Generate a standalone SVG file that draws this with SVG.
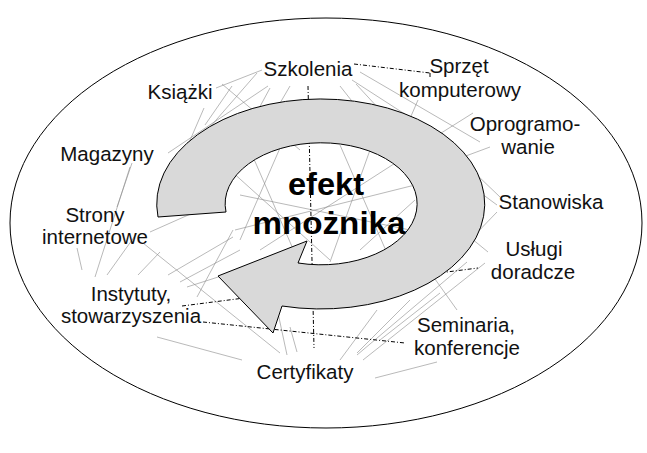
<svg xmlns="http://www.w3.org/2000/svg" width="647" height="453" viewBox="0 0 647 453">
<style>
.lbl{font-family:"Liberation Sans",Arial,sans-serif;font-size:20.5px;fill:#111;text-anchor:middle}
.big{font-family:"Liberation Sans",Arial,sans-serif;font-size:32px;font-weight:bold;fill:#000;text-anchor:middle}
.g{stroke:#8a8a8a;stroke-width:0.6;fill:none}
.d{stroke:#000;stroke-width:1;fill:none;stroke-dasharray:4 2 1 2}
</style>
<rect width="647" height="453" fill="#fff"/>
<g id="frame"><ellipse cx="326" cy="223" rx="316" ry="205" fill="none" stroke="#000" stroke-width="1"/></g>
<g id="connectors">
<g class="g">
<line x1="216" y1="88" x2="262" y2="70"/>
<line x1="168" y1="153" x2="268" y2="86"/>
<line x1="257" y1="73" x2="190" y2="150"/>
<line x1="222" y1="84" x2="300" y2="150"/>
<line x1="232" y1="86" x2="205" y2="125"/>
<line x1="204" y1="108" x2="188" y2="145"/>
<line x1="270" y1="88" x2="250" y2="125"/>
<line x1="290" y1="86" x2="276" y2="110"/>
<line x1="340" y1="86" x2="355" y2="105"/>
<line x1="356" y1="84" x2="380" y2="110"/>
<line x1="360" y1="72" x2="480" y2="142"/>
<line x1="352" y1="80" x2="445" y2="140"/>
<line x1="418" y1="100" x2="405" y2="130"/>
<line x1="473" y1="113" x2="430" y2="140"/>
<line x1="490" y1="147" x2="455" y2="160"/>
<line x1="500" y1="197" x2="430" y2="130"/>
<line x1="497" y1="205" x2="470" y2="185"/>
<line x1="497" y1="212" x2="470" y2="240"/>
<line x1="488" y1="252" x2="455" y2="225"/>
<line x1="485" y1="263" x2="363" y2="360"/>
<line x1="467" y1="262" x2="357" y2="355"/>
<line x1="457" y1="310" x2="425" y2="265"/>
<line x1="437" y1="362" x2="375" y2="378"/>
<line x1="440" y1="293" x2="380" y2="340"/>
<line x1="143" y1="243" x2="280" y2="353"/>
<line x1="157" y1="337" x2="242" y2="360"/>
<line x1="278" y1="313" x2="287" y2="355"/>
<line x1="290" y1="327" x2="297" y2="352"/>
<line x1="377" y1="310" x2="340" y2="360"/>
<line x1="410" y1="300" x2="357" y2="353"/>
<line x1="130" y1="167" x2="95" y2="277"/>
<line x1="77" y1="248" x2="82" y2="270"/>
<line x1="107" y1="275" x2="137" y2="233"/>
<line x1="138" y1="275" x2="160" y2="252"/>
<line x1="168" y1="275" x2="233" y2="237"/>
<line x1="180" y1="282" x2="240" y2="250"/>
<line x1="187" y1="287" x2="240" y2="270"/>
<line x1="197" y1="297" x2="233" y2="230"/>
<line x1="132" y1="163" x2="117" y2="207"/>
<line x1="150" y1="232" x2="195" y2="212"/>
<line x1="230" y1="170" x2="330" y2="260"/>
<line x1="250" y1="150" x2="300" y2="265"/>
<line x1="260" y1="250" x2="400" y2="160"/>
<line x1="235" y1="230" x2="415" y2="185"/>
<line x1="340" y1="145" x2="390" y2="260"/>
<line x1="370" y1="150" x2="330" y2="262"/>
<line x1="240" y1="195" x2="410" y2="230"/>
<line x1="280" y1="148" x2="240" y2="240"/>
<line x1="360" y1="250" x2="415" y2="200"/>
</g>
<g class="d">
<line x1="308" y1="86" x2="314" y2="348"/>
<line x1="354" y1="64" x2="430" y2="73"/>
<line x1="430" y1="73" x2="430" y2="79"/>
<line x1="203" y1="322" x2="405" y2="343"/>
<line x1="182" y1="306" x2="478" y2="268"/>
</g>
</g>
<g id="cycle-arrow">
<path d="M158,217 A164,105 0 1 1 282,306 L273,333 L218,276 L307,241 L298,263 A96,61 0 1 0 226,212 Z" fill="#d9d9d9" stroke="#000" stroke-width="1"/>
</g>
<g id="center"><text class="big" x="326" y="195" textLength="76" lengthAdjust="spacingAndGlyphs">efekt</text><text class="big" x="329" y="234" textLength="153" lengthAdjust="spacingAndGlyphs">mnożnika</text></g>
<g id="szkolenia"><text class="lbl" x="308" y="76">Szkolenia</text></g>
<g id="ksiazki"><text class="lbl" x="180" y="99">Książki</text></g>
<g id="sprzet"><text class="lbl" x="459" y="73">Sprzęt</text><text class="lbl" x="460" y="97">komputerowy</text></g>
<g id="oprogramowanie"><text class="lbl" x="525" y="131">Oprogramo-</text><text class="lbl" x="528" y="154">wanie</text></g>
<g id="stanowiska"><text class="lbl" x="551" y="209">Stanowiska</text></g>
<g id="uslugi"><text class="lbl" x="534" y="256">Usługi</text><text class="lbl" x="533" y="279">doradcze</text></g>
<g id="seminaria"><text class="lbl" x="466" y="332">Seminaria,</text><text class="lbl" x="467" y="355">konferencje</text></g>
<g id="certyfikaty"><text class="lbl" x="305" y="379">Certyfikaty</text></g>
<g id="instytuty"><text class="lbl" x="131" y="301">Instytuty,</text><text class="lbl" x="131" y="323">stowarzyszenia</text></g>
<g id="strony"><text class="lbl" x="95" y="222">Strony</text><text class="lbl" x="95" y="244">internetowe</text></g>
<g id="magazyny"><text class="lbl" x="107" y="161">Magazyny</text></g>
</svg>
